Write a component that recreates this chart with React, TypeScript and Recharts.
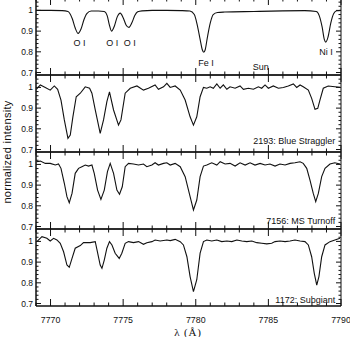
import React from 'react';
import { LineChart, Line, XAxis, YAxis, ReferenceArea, ReferenceDot } from 'recharts';

// ---------- data (wavelength in Å, normalized intensity) ----------
const sunWave = [7769.0, 7770.0, 7770.8, 7771.2, 7771.5, 7771.7, 7771.9, 7772.1, 7772.3, 7772.5, 7772.8, 7773.3, 7773.7, 7773.9, 7774.05, 7774.2, 7774.4, 7774.6, 7774.8, 7775.0, 7775.2, 7775.4, 7775.6, 7775.8, 7776.0, 7776.3, 7777.0, 7778.0, 7779.0, 7779.6, 7779.9, 7780.1, 7780.3, 7780.45, 7780.55, 7780.65, 7780.8, 7781.0, 7781.2, 7781.5, 7782.0, 7784.0, 7786.0, 7787.5, 7788.3, 7788.5, 7788.7, 7788.85, 7788.95, 7789.1, 7789.3, 7789.5, 7789.7, 7790.0];
const sunFlux = [1.0, 1.0, 0.999, 0.995, 0.96, 0.915, 0.889, 0.91, 0.955, 0.985, 0.997, 0.997, 0.995, 0.975, 0.93, 0.9, 0.925, 0.97, 0.987, 0.965, 0.93, 0.918, 0.94, 0.975, 0.993, 0.998, 1.0, 1.0, 0.999, 0.997, 0.98, 0.93, 0.86, 0.81, 0.798, 0.81, 0.87, 0.94, 0.98, 0.99, 0.992, 0.995, 0.998, 0.999, 0.995, 0.975, 0.92, 0.86, 0.847, 0.87, 0.94, 0.985, 0.998, 1.0];

const bsWave = [7769.02, 7769.3, 7769.64, 7769.98, 7770.26, 7770.49, 7770.72, 7770.95, 7771.2, 7771.36, 7771.54, 7771.77, 7772.05, 7772.39, 7772.69, 7772.85, 7773.08, 7773.42, 7773.65, 7773.88, 7774.06, 7774.34, 7774.68, 7774.85, 7775.14, 7775.49, 7775.95, 7776.4, 7776.74, 7777.2, 7777.43, 7777.78, 7778.01, 7778.24, 7778.58, 7778.93, 7779.27, 7779.61, 7779.84, 7780.07, 7780.3, 7780.53, 7780.76, 7780.99, 7781.21, 7781.45, 7781.68, 7781.9, 7782.14, 7782.36, 7782.71, 7783.05, 7783.28, 7783.62, 7783.97, 7784.31, 7784.54, 7784.77, 7785.0, 7785.34, 7785.69, 7786.03, 7786.37, 7786.72, 7786.95, 7787.18, 7787.4, 7787.75, 7787.98, 7788.21, 7788.4, 7788.55, 7788.78, 7789.12, 7789.58, 7789.93];
const bsFlux = [0.991, 1.012, 1.0, 0.987, 1.007, 0.991, 0.939, 0.843, 0.754, 0.77, 0.858, 0.955, 0.972, 1.003, 0.996, 0.972, 0.891, 0.778, 0.843, 0.931, 0.979, 0.891, 0.818, 0.843, 0.972, 0.996, 1.007, 0.987, 0.996, 1.012, 0.991, 1.003, 1.02, 1.0, 1.007, 0.987, 0.939, 0.858, 0.818, 0.858, 0.955, 1.0, 0.996, 1.003, 0.996, 1.017, 0.996, 1.012, 0.991, 1.003, 0.996, 1.007, 0.991, 0.996, 0.991, 1.003, 0.996, 1.012, 0.996, 1.007, 0.996, 1.0, 1.007, 1.017, 1.0, 1.012, 1.003, 0.987, 0.947, 0.894, 0.899, 0.939, 0.996, 1.007, 1.003, 1.0];

const toWave = [7769.02, 7769.3, 7769.64, 7769.98, 7770.33, 7770.55, 7770.72, 7770.95, 7771.13, 7771.29, 7771.48, 7771.7, 7771.93, 7772.16, 7772.39, 7772.62, 7772.85, 7773.01, 7773.24, 7773.47, 7773.7, 7773.92, 7774.11, 7774.34, 7774.57, 7774.75, 7774.94, 7775.14, 7775.37, 7775.71, 7776.06, 7776.4, 7776.63, 7776.98, 7777.2, 7777.43, 7777.78, 7778.01, 7778.24, 7778.58, 7778.93, 7779.27, 7779.61, 7779.84, 7780.07, 7780.3, 7780.53, 7780.76, 7781.1, 7781.45, 7781.68, 7782.02, 7782.36, 7782.71, 7783.05, 7783.4, 7783.74, 7784.08, 7784.43, 7784.77, 7785.11, 7785.46, 7785.8, 7786.15, 7786.49, 7786.83, 7787.18, 7787.4, 7787.64, 7787.86, 7788.09, 7788.26, 7788.44, 7788.67, 7788.9, 7789.24, 7789.58, 7789.93];
const toFlux = [1.013, 1.016, 1.005, 1.005, 0.997, 1.002, 0.981, 0.909, 0.844, 0.815, 0.86, 0.957, 0.981, 0.989, 0.997, 0.992, 0.997, 0.957, 0.876, 0.831, 0.876, 0.965, 1.005, 0.957, 0.876, 0.856, 0.892, 0.989, 1.005, 1.002, 0.997, 1.002, 0.989, 0.997, 1.008, 0.997, 1.005, 1.008, 0.997, 1.005, 0.989, 0.941, 0.844, 0.78, 0.828, 0.941, 0.992, 0.997, 1.008, 0.997, 1.013, 1.002, 1.005, 0.992, 1.008, 0.997, 1.008, 0.997, 1.005, 0.997, 1.002, 0.992, 1.002, 0.997, 1.005, 1.008, 1.013, 1.005, 0.981, 0.925, 0.86, 0.82, 0.86, 0.941, 0.981, 1.002, 1.008, 1.002];

const sgWave = [7769.06, 7769.41, 7769.75, 7769.98, 7770.21, 7770.44, 7770.67, 7770.9, 7771.13, 7771.29, 7771.48, 7771.7, 7772.05, 7772.27, 7772.73, 7773.08, 7773.2, 7773.42, 7773.54, 7773.7, 7773.88, 7774.06, 7774.23, 7774.45, 7774.73, 7774.91, 7775.14, 7775.37, 7775.71, 7776.06, 7776.4, 7776.63, 7776.98, 7777.2, 7777.55, 7778.01, 7778.24, 7778.58, 7778.93, 7779.15, 7779.39, 7779.61, 7779.84, 7780.07, 7780.3, 7780.53, 7780.76, 7781.1, 7781.45, 7781.79, 7782.14, 7782.48, 7782.83, 7783.17, 7783.51, 7783.86, 7784.2, 7784.54, 7784.89, 7785.23, 7785.46, 7785.8, 7786.15, 7786.49, 7786.83, 7787.18, 7787.52, 7787.75, 7787.98, 7788.16, 7788.33, 7788.48, 7788.67, 7788.9, 7789.24, 7789.58, 7789.93];
const sgFlux = [0.999, 1.023, 1.015, 1.002, 1.015, 1.007, 0.991, 0.95, 0.886, 0.875, 0.918, 0.967, 0.98, 0.994, 0.994, 0.999, 0.959, 0.886, 0.87, 0.91, 0.967, 0.999, 0.983, 0.943, 0.918, 0.943, 0.991, 0.999, 0.994, 0.999, 0.986, 0.994, 0.999, 1.007, 1.002, 1.007, 1.004, 1.01, 0.999, 0.983, 0.926, 0.83, 0.757, 0.815, 0.943, 0.999, 1.007, 1.002, 1.007, 0.999, 1.002, 0.999, 1.007, 1.002, 0.999, 1.002, 0.994, 0.991, 0.988, 0.991, 0.999, 1.002, 0.999, 1.002, 1.007, 1.002, 0.999, 0.983, 0.926, 0.846, 0.789, 0.83, 0.926, 0.983, 0.999, 1.007, 1.015];

const xTicks = [7769, 7770, 7771, 7772, 7773, 7774, 7775, 7776, 7777, 7778, 7779, 7780, 7781, 7782, 7783, 7784, 7785, 7786, 7787, 7788, 7789, 7790];
const xLabelTicks = [7770, 7775, 7780, 7785, 7790];
const yTicks = [0.7, 0.72, 0.74, 0.76, 0.78, 0.8, 0.82, 0.84, 0.86, 0.88, 0.9, 0.92, 0.94, 0.96, 0.98, 1.0, 1.02, 1.04];
const yLabelTicks = [0.7, 0.8, 0.9, 1];

// ---------- layout ----------
const X_MIN = 7769;
const X_MAX = 7790;
const Y_MIN = 0.688;
const Y_MAX = 1.06;
const LEFT = 36;
const RIGHT = 9;
const PLOT_W = 350 - LEFT - RIGHT;
const PLOT_H = 77;
const MT = 6;
const XH = 30;
const FONT = '"Liberation Sans", Arial, Helvetica, sans-serif';
const SERIF = '"Liberation Serif", "DejaVu Serif", serif';
const INK = '#111';

type Note = { x: number; y: number; text: string; anchor?: 'start' | 'middle' | 'end' };

function Panel(props: { wave: number[]; flux: number[]; top: number; showX: boolean; notes: Note[]; curve: any }) {
  const { wave, flux, top, showX, notes, curve } = props;
  const data = wave.map((w, i) => ({ w, f: flux[i] }));

  const XTick = (p: any) => {
    const { x, y, payload } = p;
    const v = payload.value as number;
    const major = xLabelTicks.includes(v);
    const len = major ? 7 : 3.5;
    return (
      <g>
        <line x1={x} y1={y} x2={x} y2={y - len} stroke={INK} strokeWidth={1} />
        <line x1={x} y1={y - PLOT_H} x2={x} y2={y - PLOT_H + len} stroke={INK} strokeWidth={1} />
        {showX && major ? (
          <text x={x} y={y + 17} textAnchor="middle" fontSize={8.8} fontFamily={FONT} fill={INK}>
            {v}
          </text>
        ) : null}
      </g>
    );
  };

  const YTick = (p: any) => {
    const { x, y, payload } = p;
    const v = payload.value as number;
    const major = yLabelTicks.some((t) => Math.abs(t - v) < 1e-6);
    const len = major ? 5 : 2.5;
    return (
      <g>
        <line x1={x} y1={y} x2={x + len} y2={y} stroke={INK} strokeWidth={1} />
        <line x1={x + PLOT_W} y1={y} x2={x + PLOT_W - len} y2={y} stroke={INK} strokeWidth={1} />
        {major ? (
          <text x={x - 3} y={y + 3} textAnchor="end" fontSize={8.5} fontFamily={FONT} fill={INK}>
            {String(v)}
          </text>
        ) : null}
      </g>
    );
  };

  return (
    <div style={{ position: 'absolute', left: 0, top: top - MT }}>
      <LineChart width={350} height={PLOT_H + MT + XH} data={data} margin={{ top: MT, right: RIGHT, bottom: 0, left: 0 }}>
        <XAxis
          dataKey="w"
          type="number"
          domain={[X_MIN, X_MAX]}
          ticks={xTicks}
          interval={0}
          tickSize={0}
          tickMargin={0}
          tickLine={false}
          axisLine={{ stroke: INK }}
          tick={XTick}
          height={XH}
          allowDataOverflow
        />
        <YAxis
          type="number"
          domain={[Y_MIN, Y_MAX]}
          ticks={yTicks}
          interval={0}
          tickSize={0}
          tickMargin={0}
          tickLine={false}
          axisLine={{ stroke: INK }}
          tick={YTick}
          width={LEFT}
          allowDataOverflow
        />
        <ReferenceArea x1={X_MIN} x2={X_MAX} y1={Y_MIN} y2={Y_MAX} fill="none" fillOpacity={0} stroke={INK} strokeWidth={1} />
        <Line dataKey="f" type={curve} stroke={INK} strokeWidth={1.1} dot={false} isAnimationActive={false} />
        {notes.map((n, i) => (
          <ReferenceDot
            key={i}
            x={n.x}
            y={n.y}
            r={1}
            shape={(sp: any) => (
              <text
                x={sp.cx}
                y={sp.cy}
                dy="0.35em"
                textAnchor={n.anchor || 'middle'}
                fontSize={9}
                fontFamily={FONT}
                fill={INK}
              >
                {n.text}
              </text>
            )}
          />
        ))}
      </LineChart>
    </div>
  );
}

const sunNotes: Note[] = [
  { x: 7772.0, y: 0.843, text: 'O I' },
  { x: 7774.25, y: 0.843, text: 'O I' },
  { x: 7775.45, y: 0.843, text: 'O I' },
  { x: 7780.7, y: 0.749, text: 'Fe I' },
  { x: 7788.97, y: 0.801, text: 'Ni I' },
  { x: 7784.48, y: 0.728, text: 'Sun' },
];
const bsNotes: Note[] = [{ x: 7789.6, y: 0.74, text: '2193: Blue Straggler', anchor: 'end' }];
const toNotes: Note[] = [{ x: 7789.6, y: 0.728, text: '7156: MS Turnoff', anchor: 'end' }];
const sgNotes: Note[] = [{ x: 7789.6, y: 0.72, text: '1172: Subgiant', anchor: 'end' }];

export default function App() {
  return (
    <div style={{ position: 'absolute', left: 0, top: 0, width: 350, height: 337, background: '#fff', overflow: 'hidden' }}>
      <Panel wave={sunWave} flux={sunFlux} top={-2} showX={false} notes={sunNotes} curve="monotone" />
      <Panel wave={bsWave} flux={bsFlux} top={75} showX={false} notes={bsNotes} curve="linear" />
      <Panel wave={toWave} flux={toFlux} top={152} showX={false} notes={toNotes} curve="linear" />
      <Panel wave={sgWave} flux={sgFlux} top={229} showX={true} notes={sgNotes} curve="linear" />
      <svg width={350} height={337} style={{ position: 'absolute', left: 0, top: 0, pointerEvents: 'none' }}>
        <text
          x={0}
          y={0}
          transform="translate(11,152) rotate(-90)"
          textAnchor="middle"
          fontSize={11}
          fontFamily={FONT}
          letterSpacing={0.3}
          fill={INK}
        >
          normalized intensity
        </text>
        <text x={188} y={335.5} textAnchor="middle" fontSize={11} fontFamily={SERIF} letterSpacing={0.8} fill={INK}>
          λ (Å)
        </text>
      </svg>
    </div>
  );
}
